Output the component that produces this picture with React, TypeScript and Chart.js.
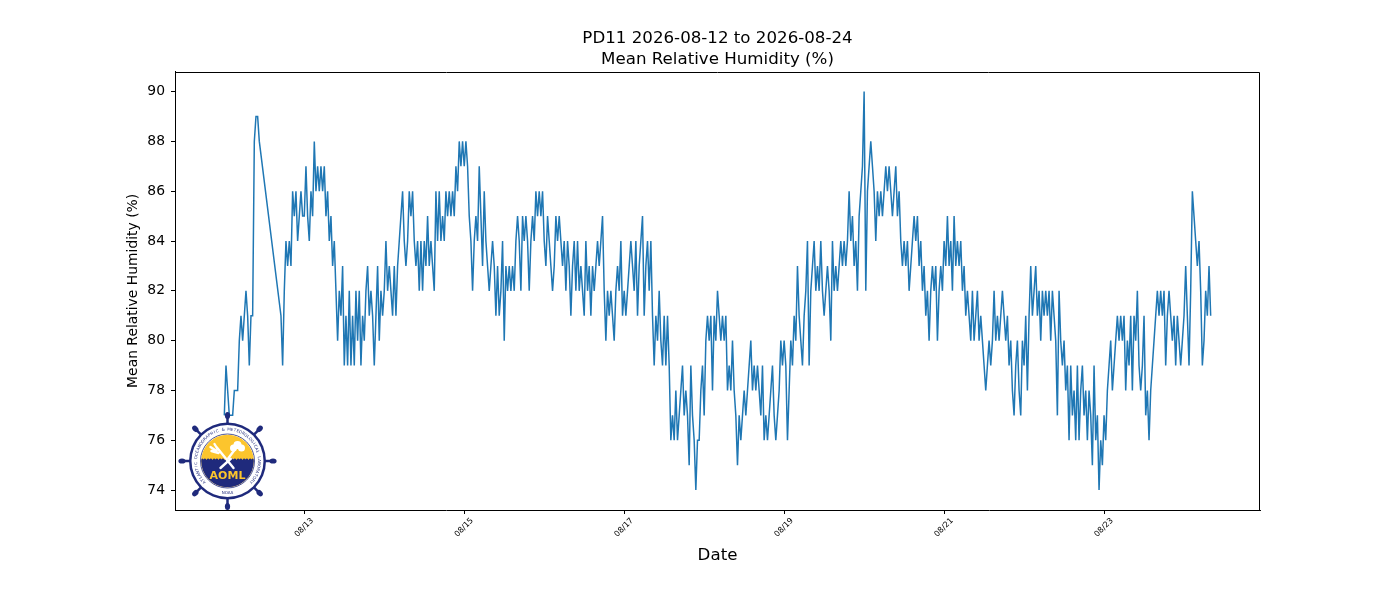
// App.tsx
import React, { useEffect, useRef } from "react";
import { Chart, registerables } from "chart.js";

Chart.register(...registerables);

const titleLines = ["PD11 2026-08-12 to 2026-08-24", "Mean Relative Humidity (%)"];
const xTitle = "Date";
const yTitle = "Mean Relative Humidity (%)";

// samples every half hour, hours counted from 2026-08-12 00:00
const sampleStep = 0.5;

const rh0812 = [
  77, 79, 78, 77, 77, 77, 78, 78, 78, 80, 81, 80, 81, 82, 81, 79, 81, 81, 88, 89, 89, 88,
  null, null, null, null, null, null, null, null, null, null, null, null,
  81, 79, 82, 84, 83, 84, 83, 86, 85, 86, 84, 85, 86, 85,
];
const rh0813 = [
  85, 87, 85, 84, 86, 85, 88, 86, 87, 86, 87, 86, 87, 85, 86, 84, 85, 83, 84, 82, 80, 82, 81, 83,
  79, 81, 79, 82, 79, 81, 79, 82, 80, 82, 79, 81, 80, 82, 83, 81, 82, 81, 79, 81, 83, 80, 82, 81,
];
const rh0814 = [
  82, 84, 82, 83, 82, 81, 83, 81, 83, 84, 85, 86, 84, 83, 84, 86, 85, 86, 84, 83, 84, 82, 84, 82,
  84, 83, 85, 83, 84, 83, 82, 86, 84, 86, 84, 85, 84, 86, 85, 86, 85, 86, 85, 87, 86, 88, 87, 88,
];
const rh0815 = [
  87, 88, 87, 85, 84, 82, 84, 85, 84, 87, 85, 83, 86, 84, 83, 82, 83, 84, 83, 81, 83, 81, 82, 84,
  80, 83, 82, 83, 82, 83, 82, 84, 85, 84, 82, 85, 84, 85, 84, 82, 84, 85, 84, 86, 85, 86, 85, 86,
];
const rh0816 = [
  84, 83, 85, 84, 83, 82, 83, 85, 84, 85, 84, 83, 84, 82, 84, 83, 81, 83, 84, 82, 84, 82, 83, 82,
  81, 84, 82, 83, 81, 83, 82, 83, 84, 83, 84, 85, 82, 80, 82, 81, 82, 81, 80, 82, 83, 82, 84, 81,
];
const rh0817 = [
  82, 81, 82, 83, 84, 83, 82, 84, 81, 83, 84, 85, 81, 83, 84, 82, 84, 81, 79, 81, 80, 82, 80, 79,
  81, 79, 81, 79, 76, 77, 76, 78, 76, 77, 78, 79, 77, 78, 77, 75, 79, 77, 76, 74, 76, 76, 78, 79,
];
const rh0818 = [
  77, 80, 81, 80, 81, 78, 81, 80, 82, 81, 80, 81, 80, 81, 78, 79, 78, 80, 78, 77, 75, 77, 76, 77,
  78, 77, 78, 79, 80, 78, 79, 78, 79, 78, 77, 79, 76, 77, 76, 77, 78, 79, 77, 76, 77, 78, 80, 79,
];
const rh0819 = [
  80, 79, 76, 78, 80, 79, 81, 80, 83, 81, 80, 79, 81, 82, 84, 79, 82, 83, 84, 82, 83, 82, 84, 82,
  81, 82, 83, 82, 80, 84, 82, 83, 82, 83, 84, 83, 84, 83, 84, 86, 84, 85, 83, 84, 82, 85, 86, 87,
];
const rh0820 = [
  90, 82, 86, 87, 88, 87, 86, 84, 86, 85, 86, 85, 86, 87, 86, 87, 86, 85, 86, 87, 85, 86, 84, 83,
  84, 83, 84, 82, 83, 84, 85, 84, 85, 83, 84, 82, 83, 81, 82, 80, 82, 83, 82, 83, 80, 82, 83, 82,
];
const rh0821 = [
  84, 83, 85, 83, 84, 82, 85, 83, 84, 83, 84, 82, 83, 81, 82, 81, 80, 82, 80, 81, 82, 80, 81, 80,
  79, 78, 79, 80, 79, 80, 82, 80, 81, 80, 81, 82, 81, 80, 81, 79, 80, 78, 77, 79, 80, 78, 77, 80,
];
const rh0822 = [
  79, 81, 78, 81, 83, 81, 82, 83, 81, 82, 80, 82, 81, 82, 81, 82, 80, 82, 81, 80, 77, 82, 80, 79,
  80, 78, 79, 76, 79, 77, 78, 76, 79, 76, 78, 79, 77, 78, 76, 78, 77, 75, 79, 76, 77, 74, 76, 75,
];
const rh0823 = [
  77, 76, 78, 79, 80, 78, 79, 80, 81, 80, 81, 80, 81, 78, 80, 79, 81, 78, 81, 80, 82, 79, 78, 79,
  81, 77, 78, 76, 78, 79, 80, 81, 82, 81, 82, 81, 82, 79, 81, 82, 81, 80, 81, 79, 81, 80, 79, 80,
];
const rh0824 = [81, 83, 81, 79, 82, 86, 85, 84, 83, 84, 82, 79, 80, 82, 81, 83, 81];

const humidity: (number | null)[] = [
  ...rh0812, ...rh0813, ...rh0814, ...rh0815, ...rh0816, ...rh0817, ...rh0818,
  ...rh0819, ...rh0820, ...rh0821, ...rh0822, ...rh0823, ...rh0824,
];

const xTickHours = [24, 72, 120, 168, 216, 264];
const xTickLabels = ["08/13", "08/15", "08/17", "08/19", "08/21", "08/23"];
const yTickValues = [74, 76, 78, 80, 82, 84, 86, 88, 90];

const FONT = "DejaVu Sans";
const NAVY = "#1f2a7c";
const YELLOW = "#fcc52d";
const ringText = "ATLANTIC OCEANOGRAPHIC & METEOROLOGICAL LABORATORY";

// matplotlib draws a box around the axes; left and bottom come from the scales
const framePlugin = {
  id: "frame",
  afterDatasetsDraw(chart: Chart) {
    const { ctx, chartArea } = chart;
    const l = Math.round(chartArea.left) + 0.5;
    const r = Math.round(chartArea.right) - 0.5;
    const t = Math.round(chartArea.top) + 0.5;
    const b = Math.round(chartArea.bottom) + 0.5;
    ctx.save();
    ctx.strokeStyle = "#000";
    ctx.lineWidth = 1;
    ctx.beginPath();
    ctx.moveTo(l, t);
    ctx.lineTo(r, t);
    ctx.lineTo(r, b);
    ctx.stroke();
    ctx.restore();
  },
};

const drawLogo = (ctx: CanvasRenderingContext2D, cx: number, cy: number) => {
  ctx.save();
  // wheel handles
  ctx.fillStyle = NAVY;
  ctx.strokeStyle = NAVY;
  for (let k = 0; k < 8; k++) {
    const a = (k * Math.PI) / 4;
    ctx.lineWidth = 2.5;
    ctx.beginPath();
    ctx.moveTo(cx + Math.cos(a) * 36, cy + Math.sin(a) * 36);
    ctx.lineTo(cx + Math.cos(a) * 43, cy + Math.sin(a) * 43);
    ctx.stroke();
    ctx.beginPath();
    ctx.ellipse(cx + Math.cos(a) * 45.5, cy + Math.sin(a) * 45.5, 3.6, 2.6, a, 0, Math.PI * 2);
    ctx.fill();
  }
  // rings
  ctx.beginPath();
  ctx.arc(cx, cy, 38.5, 0, Math.PI * 2);
  ctx.fill();
  ctx.fillStyle = "#fff";
  ctx.beginPath();
  ctx.arc(cx, cy, 36, 0, Math.PI * 2);
  ctx.fill();
  ctx.strokeStyle = NAVY;
  ctx.lineWidth = 0.8;
  ctx.beginPath();
  ctx.arc(cx, cy, 27, 0, Math.PI * 2);
  ctx.stroke();

  // inner disc: yellow sky, navy sea
  ctx.save();
  ctx.beginPath();
  ctx.arc(cx, cy, 26.3, 0, Math.PI * 2);
  ctx.clip();
  ctx.fillStyle = YELLOW;
  ctx.fillRect(cx - 27, cy - 27, 54, 54);
  ctx.fillStyle = NAVY;
  ctx.beginPath();
  ctx.moveTo(cx - 27, cy - 1);
  for (let k = 0; k < 9; k++) {
    const x0 = cx - 27 + k * 6;
    ctx.quadraticCurveTo(x0 + 1.5, cy - 3.5, x0 + 3, cy - 1.5);
    ctx.quadraticCurveTo(x0 + 4.5, cy - 3.5, x0 + 6, cy - 1);
  }
  ctx.lineTo(cx + 27, cy + 27);
  ctx.lineTo(cx - 27, cy + 27);
  ctx.closePath();
  ctx.fill();
  ctx.restore();

  // white trident and bolt
  ctx.strokeStyle = "#fff";
  ctx.fillStyle = "#fff";
  ctx.lineCap = "round";
  ctx.lineWidth = 2.4;
  ctx.beginPath();
  ctx.moveTo(cx - 11, cy - 14);
  ctx.lineTo(cx + 6, cy + 7);
  ctx.moveTo(cx - 16, cy - 10);
  ctx.lineTo(cx - 9, cy - 8);
  ctx.moveTo(cx - 13, cy - 17);
  ctx.lineTo(cx - 10, cy - 12);
  ctx.moveTo(cx - 17, cy - 14);
  ctx.lineTo(cx - 11, cy - 10);
  ctx.stroke();
  ctx.beginPath();
  ctx.moveTo(cx + 7, cy - 11);
  ctx.lineTo(cx + 1, cy - 3);
  ctx.lineTo(cx + 3, cy - 2);
  ctx.lineTo(cx - 7, cy + 7);
  ctx.stroke();
  ctx.beginPath();
  ctx.arc(cx + 6, cy - 13, 3.5, 0, Math.PI * 2);
  ctx.arc(cx + 10, cy - 16, 4, 0, Math.PI * 2);
  ctx.arc(cx + 14, cy - 13, 3.5, 0, Math.PI * 2);
  ctx.fill();

  // lettering
  ctx.fillStyle = YELLOW;
  ctx.font = `bold 11px "${FONT}"`;
  ctx.textAlign = "center";
  ctx.textBaseline = "middle";
  ctx.fillText("AOML", cx, cy + 15);

  ctx.fillStyle = NAVY;
  ctx.font = `4px "${FONT}"`;
  const start = (135 * Math.PI) / 180;
  const span = (270 * Math.PI) / 180;
  for (let i = 0; i < ringText.length; i++) {
    const a = start + (span * (i + 0.5)) / ringText.length;
    ctx.save();
    ctx.translate(cx + Math.cos(a) * 31.5, cy + Math.sin(a) * 31.5);
    ctx.rotate(a + Math.PI / 2);
    ctx.fillText(ringText[i], 0, 0);
    ctx.restore();
  }
  ctx.fillText("NOAA", cx, cy + 31.5);
  ctx.restore();
};

const logoPlugin = {
  id: "logo",
  afterDatasetsDraw(chart: Chart) {
    const { ctx, chartArea } = chart;
    drawLogo(ctx, chartArea.left + 52.5, chartArea.bottom - 49);
  },
};

const App: React.FC = () => {
  const canvasRef = useRef<HTMLCanvasElement>(null);

  useEffect(() => {
    if (!canvasRef.current) return;
    const ctx = canvasRef.current.getContext("2d");
    if (!ctx) return;

    const axisGrid = {
      drawOnChartArea: false,
      drawTicks: true,
      tickLength: 4,
      color: "#000",
      lineWidth: 1,
    };

    const chart = new Chart(ctx, {
      type: "line",
      data: {
        datasets: [
          {
            label: "Mean Relative Humidity",
            data: humidity.map((v, i) => ({ x: i * sampleStep, y: v })),
            borderColor: "#1f77b4",
            borderWidth: 1.5,
            pointRadius: 0,
            tension: 0,
            spanGaps: true,
            fill: false,
          },
        ],
      },
      options: {
        animation: false,
        responsive: true,
        maintainAspectRatio: false,
        layout: { padding: { left: 125, right: 140, top: 4, bottom: 34 } },
        plugins: {
          legend: { display: false },
          tooltip: { enabled: false },
          title: {
            display: true,
            text: titleLines,
            fullSize: false,
            color: "#000",
            font: { family: FONT, size: 16.67, weight: "normal", lineHeight: 1.25 },
            padding: { top: 24, bottom: 2 },
          },
        },
        scales: {
          x: {
            type: "linear",
            min: -14.8,
            max: 310.8,
            afterBuildTicks: (scale) => {
              scale.ticks = xTickHours.map((v) => ({ value: v }));
            },
            afterFit: (scale) => {
              scale.height = 56;
            },
            grid: axisGrid,
            border: { display: true, color: "#000", width: 1 },
            ticks: {
              autoSkip: false,
              minRotation: 45,
              maxRotation: 45,
              padding: 2,
              labelOffset: 8,
              color: "#000",
              font: { family: FONT, size: 8 },
              callback: (value) => xTickLabels[xTickHours.indexOf(Number(value))] ?? "",
            },
            title: {
              display: true,
              text: xTitle,
              color: "#000",
              font: { family: FONT, size: 16.67 },
              padding: 0,
            },
          },
          y: {
            min: 73.2,
            max: 90.8,
            afterBuildTicks: (scale) => {
              scale.ticks = yTickValues.map((v) => ({ value: v }));
            },
            afterFit: (scale) => {
              scale.width = 50;
            },
            grid: axisGrid,
            border: { display: true, color: "#000", width: 1 },
            ticks: {
              padding: 6,
              color: "#000",
              font: { family: FONT, size: 13.9 },
            },
            title: {
              display: true,
              text: yTitle,
              color: "#000",
              font: { family: FONT, size: 13.9 },
              padding: 0,
            },
          },
        },
      },
      plugins: [framePlugin, logoPlugin],
    });

    return () => {
      chart.destroy();
    };
  }, []);

  return (
    <div
      style={{
        position: "absolute",
        left: 0,
        top: 0,
        width: 1400,
        height: 600,
        background: "#fff",
      }}
    >
      <canvas ref={canvasRef}></canvas>
    </div>
  );
};

export default App;
